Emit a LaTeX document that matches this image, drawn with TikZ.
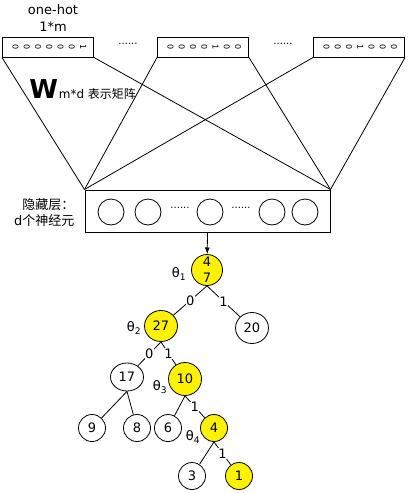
\documentclass[tikz,border=0pt]{standalone}
\usepackage{fontspec}
\setmainfont{DejaVu Sans}
\newfontfamily\cjk{Noto Sans CJK SC}
\usetikzlibrary{arrows.meta, shapes.geometric}

\newcommand\rbit[1]{\hspace{2.6pt}\rotatebox[origin=c]{-90}{#1}\hspace{2.6pt}}

\begin{document}
\begin{tikzpicture}[x=1pt, y=-1pt, line width=0.8pt,
  every node/.style={font=\fontsize{13}{16}\selectfont},
  vecbox/.style={draw, line width=1pt, minimum width=91pt, minimum height=20pt,
                 inner sep=0pt, font=\fontsize{8}{8}\selectfont},
  neuron/.style={draw, circle, minimum size=26pt, inner sep=0pt},
  dots/.style={font=\fontsize{10}{10}\selectfont},
  tnode/.style={draw, ellipse, inner sep=0pt, minimum width=33pt, minimum height=31pt},
  leaf/.style={draw, circle, inner sep=0pt, minimum size=27pt},
  hit/.style={fill=yellow},
  lbl/.style={fill=white, inner sep=0.5pt},
  theta/.style={inner sep=0pt}
]
  \useasboundingbox (0,0) rectangle (408,493);

  % one-hot input
  \node (title) at (53,10) {one-hot};
  \node (size)  at (53,27) {1*m};
  \node[vecbox] (vecA) at (48,47)  {\rbit0\rbit0\rbit0\rbit0\rbit0\rbit0\rbit1};
  \node[vecbox] (vecB) at (203,47) {\rbit0\rbit0\rbit0\rbit0\rbit1\rbit0\rbit0};
  \node[vecbox] (vecC) at (359,47) {\rbit0\rbit0\rbit0\rbit1\rbit0\rbit0\rbit0};
  \node[dots] (dotsA) at (128,44) {......};
  \node[dots] (dotsB) at (283,44) {......};

  % hidden layer
  \node[draw, line width=1pt, minimum width=245pt, minimum height=42pt] (hidden) at (207.5,211) {};
  \node[align=right, anchor=east] (hlbl) at (78,213)
       {{\cjk 隐藏层：}\\d{\cjk 个神经元}};
  \node[neuron] (h1) at (111,212) {};
  \node[neuron] (h2) at (148,212) {};
  \node[neuron] (h3) at (210,212) {};
  \node[neuron] (h4) at (272,212) {};
  \node[neuron] (h5) at (305,212) {};
  \node[dots] (dotsC) at (180,208) {......};
  \node[dots] (dotsD) at (241,208) {......};

  \foreach \v in {vecA, vecB, vecC} {
    \draw (\v.south west) -- (hidden.north west);
    \draw (\v.south east) -- (hidden.north east);
  }

  \node[anchor=base west, inner sep=0pt, font=\fontsize{26}{26}\selectfont\bfseries] (wlbl) at (29,98) {W};
  \node[anchor=base west, inner sep=0pt, font=\fontsize{12}{12}\selectfont] (mlbl) at (wlbl.base east) {m*d {\cjk 表示矩阵}};

  % huffman tree
  \node[draw, circle, hit, inner sep=0pt, minimum size=31pt, align=center,
        font=\fontsize{13}{16}\selectfont] (n47) at (207,270) {4\\7};
  \node[tnode, hit] (n27) at (161,326) {27};
  \node[tnode] (n20) at (252,328) {20};
  \node[tnode, minimum height=28pt] (n17) at (127,377) {17};
  \node[tnode, hit, minimum height=33pt] (n10) at (185,379) {10};
  \node[leaf] (n9) at (92,428) {9};
  \node[leaf] (n8) at (137,428) {8};
  \node[leaf] (n6) at (168,428) {6};
  \node[leaf, hit] (n4) at (214,428) {4};
  \node[leaf] (n3) at (192,476) {3};
  \node[leaf, hit] (n1) at (239,476) {1};

  \node[theta] (t1) at (179,274) {θ\textsubscript{1}};
  \node[theta] (t2) at (134,328) {θ\textsubscript{2}};
  \node[theta] (t3) at (160,387) {θ\textsubscript{3}};
  \node[theta] (t4) at (193,437) {θ\textsubscript{4}};

  \draw[-{Latex}] (hidden.south) -- (n47);
  \draw (n47.south) -- node[lbl] {0} (n27);
  \draw (n47.south) -- node[lbl] {1} (n20);
  \draw (n27.south) -- node[lbl] {0} (n17);
  \draw (n27.south) -- node[lbl] {1} (n10);
  \draw (n17.south) -- (n9);
  \draw (n17.south) -- (n8);
  \draw (n10.south) -- (n6);
  \draw (n10.south) -- node[lbl] {1} (n4);
  \draw (n4.south) -- (n3);
  \draw (n4.south) -- node[lbl] {1} (n1);
\end{tikzpicture}
\end{document}
